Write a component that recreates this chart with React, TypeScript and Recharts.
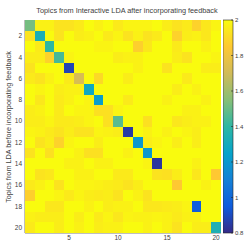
import React from "react";
import {
  ScatterChart,
  Scatter,
  XAxis,
  YAxis,
  BarChart,
  Bar,
} from "recharts";

// topic index on both axes
const topics = Array.from({ length: 20 }, (_, i) => i + 1);
const xTicks = [5, 10, 15, 20];
const yTicks = [2, 4, 6, 8, 10, 12, 14, 16, 18, 20];
const colorTicks = [0.8, 1, 1.2, 1.4, 1.6, 1.8, 2];

// rows: topics before feedback, columns: topics after feedback
const row01 = [1.52, 1.97, 1.97, 1.93, 1.93, 1.95, 2.0, 1.97, 2.0, 1.95, 1.98, 1.98, 1.98, 2.0, 1.96, 1.93, 1.95, 1.88, 1.94, 1.98];
const row02 = [1.93, 1.33, 2.0, 1.93, 2.0, 1.96, 1.97, 2.0, 1.95, 1.98, 1.93, 1.97, 1.93, 1.95, 2.0, 1.88, 1.96, 1.97, 1.94, 2.0];
const row03 = [2.0, 1.95, 1.4, 2.0, 2.0, 2.0, 2.0, 1.98, 1.98, 2.0, 2.0, 1.87, 1.94, 2.0, 2.0, 1.95, 2.0, 2.0, 1.97, 2.0];
const row04 = [1.96, 1.96, 1.88, 1.44, 1.98, 2.0, 2.0, 2.0, 2.0, 1.96, 1.97, 1.97, 2.0, 2.0, 2.0, 1.96, 1.93, 2.0, 2.0, 1.98];
const row05 = [1.93, 2.0, 2.0, 2.0, 0.88, 2.0, 2.0, 2.0, 2.0, 2.0, 2.0, 1.97, 2.0, 2.0, 1.93, 2.0, 2.0, 2.0, 1.96, 1.96];
const row06 = [1.95, 1.93, 1.97, 2.0, 1.95, 1.72, 2.0, 1.9, 2.0, 2.0, 1.96, 2.0, 2.0, 2.0, 2.0, 2.0, 1.95, 2.0, 2.0, 2.0];
const row07 = [2.0, 1.98, 2.0, 1.96, 1.97, 1.97, 1.28, 2.0, 2.0, 2.0, 2.0, 2.0, 2.0, 2.0, 2.0, 1.96, 2.0, 1.97, 2.0, 2.0];
const row08 = [2.0, 1.94, 2.0, 1.95, 1.97, 2.0, 1.98, 1.22, 2.0, 2.0, 1.95, 2.0, 2.0, 2.0, 1.97, 2.0, 2.0, 2.0, 1.97, 2.0];
const row09 = [1.96, 1.97, 2.0, 1.95, 2.0, 1.98, 1.98, 1.92, 1.92, 1.98, 2.0, 2.0, 2.0, 2.0, 2.0, 2.0, 1.97, 1.97, 2.0, 2.0];
const row10 = [1.96, 1.96, 1.98, 1.95, 1.95, 1.96, 1.98, 2.0, 1.92, 1.47, 2.0, 2.0, 1.92, 2.0, 2.0, 1.94, 1.96, 1.97, 1.97, 2.0];
const row11 = [1.98, 1.97, 1.95, 1.93, 1.96, 1.93, 1.93, 1.98, 1.97, 1.96, 0.85, 2.0, 1.97, 2.0, 1.97, 2.0, 1.98, 1.96, 2.0, 2.0];
const row12 = [2.0, 1.93, 1.96, 1.88, 1.98, 2.0, 2.0, 1.96, 2.0, 2.0, 2.0, 1.2, 1.96, 1.98, 2.0, 1.96, 2.0, 1.96, 2.0, 2.0];
const row13 = [1.93, 2.0, 1.92, 2.0, 2.0, 1.97, 1.92, 1.92, 2.0, 2.0, 1.97, 2.0, 1.2, 2.0, 2.0, 2.0, 2.0, 2.0, 2.0, 2.0];
const row14 = [2.0, 2.0, 2.0, 2.0, 1.97, 1.97, 2.0, 1.97, 1.97, 2.0, 2.0, 2.0, 1.98, 0.84, 2.0, 2.0, 2.0, 1.97, 2.0, 2.0];
const row15 = [2.0, 1.93, 1.94, 2.0, 2.0, 1.97, 1.97, 2.0, 2.0, 1.95, 1.95, 2.0, 2.0, 1.93, 1.92, 1.96, 2.0, 1.94, 2.0, 1.85];
const row16 = [1.95, 1.97, 2.0, 1.93, 2.0, 1.98, 1.98, 1.97, 1.96, 1.95, 1.93, 1.96, 2.0, 2.0, 2.0, 1.85, 2.0, 2.0, 1.97, 2.0];
const row17 = [1.87, 2.0, 2.0, 1.98, 1.95, 1.98, 1.96, 1.95, 1.96, 1.93, 2.0, 1.97, 1.93, 2.0, 2.0, 2.0, 2.0, 2.0, 2.0, 2.0];
const row18 = [2.0, 2.0, 1.94, 1.94, 2.0, 2.0, 1.97, 2.0, 1.96, 1.97, 1.97, 2.0, 1.94, 1.94, 1.95, 1.96, 1.98, 0.95, 2.0, 2.0];
const row19 = [1.97, 1.96, 1.96, 1.96, 2.0, 1.96, 2.0, 1.95, 1.98, 1.94, 1.98, 1.97, 1.97, 1.98, 1.97, 1.95, 1.97, 1.97, 2.0, 2.0];
const row20 = [1.95, 2.0, 2.0, 1.96, 2.0, 1.97, 2.0, 1.96, 1.97, 1.97, 2.0, 2.0, 1.97, 2.0, 1.97, 1.93, 2.0, 1.96, 1.96, 1.34];

const matrix = [row01, row02, row03, row04, row05, row06, row07, row08, row09, row10,
  row11, row12, row13, row14, row15, row16, row17, row18, row19, row20];

const cLow = 0.8;
const cHigh = 2;
const parulaStops = ["#352a87", "#0f5cdd", "#1481d6", "#06a4ca", "#2eb7a4", "#87bf77", "#d1bb59", "#fec832", "#f9fb0e"];

const W = 249;
const H = 249;
const M = { top: 20, right: 28, bottom: 0, left: 0 };
const Y_W = 25;
const X_H = 16;
const cellW = (W - M.left - M.right - Y_W) / topics.length;
const cellH = (H - M.top - M.bottom - X_H) / topics.length;
const axisColor = "#262626";
const font = "'Liberation Sans', Arial, sans-serif";

function hex(h: string) {
  return [1, 3, 5].map((i) => parseInt(h.slice(i, i + 2), 16));
}

function parula(v: number) {
  const t = Math.min(1, Math.max(0, (v - cLow) / (cHigh - cLow)));
  const p = t * (parulaStops.length - 1);
  const i = Math.min(parulaStops.length - 2, Math.floor(p));
  const f = p - i;
  const a = hex(parulaStops[i]);
  const b = hex(parulaStops[i + 1]);
  const c = a.map((x, k) => Math.round(x + (b[k] - x) * f));
  return `rgb(${c[0]},${c[1]},${c[2]})`;
}

const cells = matrix.flatMap((row, r) =>
  row.map((v, c) => ({ x: topics[c], y: topics[r], v }))
);

const Cell = (props: any) => {
  const { cx, cy, payload } = props;
  return (
    <rect
      x={cx - cellW / 2}
      y={cy - cellH / 2}
      width={cellW + 0.4}
      height={cellH + 0.4}
      fill={parula(payload.v)}
      shapeRendering="crispEdges"
    />
  );
};

const tickStyle = { fontSize: 6.5, fill: "#404040", fontFamily: font };

export default function App() {
  return (
    <div style={{ position: "absolute", left: 0, top: 0, width: W, height: H, background: "#fff" }}>
      <ScatterChart width={W} height={H} margin={M}>
        <XAxis
          type="number"
          dataKey="x"
          domain={[0.5, 20.5]}
          ticks={xTicks}
          allowDataOverflow
          height={X_H}
          tickSize={-2}
          tickMargin={4}
          stroke={axisColor}
          strokeWidth={0.6}
          tick={tickStyle}
        />
        <XAxis
          xAxisId="top"
          orientation="top"
          type="number"
          domain={[0.5, 20.5]}
          ticks={xTicks}
          height={0}
          tick={false}
          tickSize={-2}
          stroke={axisColor}
          strokeWidth={0.6}
        />
        <YAxis
          type="number"
          dataKey="y"
          domain={[0.5, 20.5]}
          reversed
          ticks={yTicks}
          allowDataOverflow
          width={Y_W}
          tickSize={-2}
          tickMargin={5}
          stroke={axisColor}
          strokeWidth={0.6}
          tick={tickStyle}
        />
        <YAxis
          yAxisId="right"
          orientation="right"
          type="number"
          domain={[0.5, 20.5]}
          reversed
          ticks={yTicks}
          width={0}
          tick={false}
          tickSize={-2}
          stroke={axisColor}
          strokeWidth={0.6}
        />
        <Scatter data={cells} shape={Cell} isAnimationActive={false} />
      </ScatterChart>

      <div style={{ position: "absolute", left: 223, top: 0 }}>
        <BarChart
          width={26}
          height={H}
          data={[{ name: "cb", range: [cLow, cHigh] }]}
          margin={{ top: M.top, right: 0, bottom: X_H, left: 0 }}
          barCategoryGap={0}
        >
          <defs>
            <linearGradient id="parula" x1="0" y1="1" x2="0" y2="0">
              {parulaStops.map((c, i) => (
                <stop key={c} offset={i / (parulaStops.length - 1)} stopColor={c} />
              ))}
            </linearGradient>
          </defs>
          <XAxis dataKey="name" hide />
          <YAxis
            orientation="right"
            type="number"
            domain={[cLow, cHigh]}
            ticks={colorTicks}
            width={16}
            tickSize={-2}
            tickMargin={4}
            axisLine={false}
            stroke={axisColor}
            strokeWidth={0.6}
            tick={{ ...tickStyle, fontSize: 6 }}
          />
          <Bar dataKey="range" fill="url(#parula)" stroke={axisColor} strokeWidth={0.6} isAnimationActive={false} />
        </BarChart>
      </div>

      <svg width={W} height={H} style={{ position: "absolute", left: 0, top: 0, pointerEvents: "none" }}>
        <text x={127} y={13} textAnchor="middle" fontSize={7.3} fill="#404040" fontFamily={font}>
          Topics from Interactive LDA after incorporating feedback
        </text>
        <text
          x={0}
          y={0}
          transform="translate(11,127) rotate(-90)"
          textAnchor="middle"
          fontSize={7.3}
          fill="#404040"
          fontFamily={font}
        >
          Topics from LDA before incorporating feedback
        </text>
      </svg>
    </div>
  );
}
